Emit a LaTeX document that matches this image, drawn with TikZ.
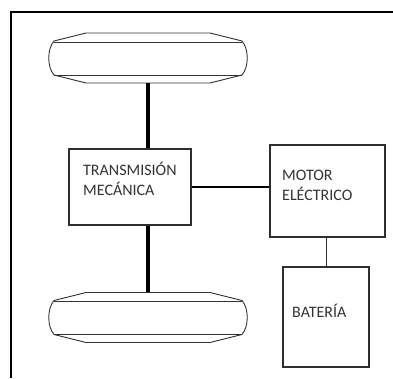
\documentclass[tikz,border=0pt]{standalone}
\usepackage{fontspec}
\setmainfont{Carlito}
\usetikzlibrary{calc}
\definecolor{txtgrey}{HTML}{333333}
\definecolor{boxgrey}{HTML}{2E2E2E}
\tikzset{
  boxnode/.style={draw=boxgrey, line width=1.1pt, minimum width=#1, inner sep=0pt},
  lbl/.style={text=txtgrey, font=\fontsize{16}{20}\selectfont, align=left, inner sep=0pt},
  wheelarea/.style={minimum width=200pt, minimum height=50pt, inner sep=0pt, draw=none},
  wheelline/.style={draw=black!80, line width=0.9pt},
  axle/.style={line width=3.2pt, black},
  link/.style={line width=1.3pt, black},
  thinlink/.style={line width=1pt, boxgrey},
  frameline/.style={line width=2pt, black}
}
\newcommand{\wheelshape}[1]{%
  \draw[wheelline, shift={(#1.center)}]
    (-94,-17) -- (-62,-25) -- (62,-25) -- (94,-17)
    .. controls (101,-9) and (101,9) .. (94,17)
    -- (62,25) -- (-62,25) -- (-94,17)
    .. controls (-101,9) and (-101,-9) .. (-94,-17);
  \draw[wheelline, shift={(#1.center)}] (-94,-16) -- (94,-16);
  \draw[wheelline, shift={(#1.center)}] (-94,17) -- (94,17);
}
\begin{document}
\begin{tikzpicture}[x=1pt, y=-1pt]
\useasboundingbox (0,0) rectangle (393,378);
\draw[frameline] (11,378) -- (11,12) -- (393,12);
% wheels
\node[wheelarea] (wt) at (148,58) {};
\node[wheelarea] (wb) at (148,317.5) {};
\wheelshape{wt}
\wheelshape{wb}
% boxes
\node[boxnode=122pt, minimum height=76pt] (trans) at (130,187) {};
\node[boxnode=115pt, minimum height=92pt] (motor) at (327.5,191) {};
\node[boxnode=86pt, minimum height=100pt] (bat) at (326,317) {};
% labels
\node[lbl, anchor=north west] (transtxt) at (83,161.5) {TRANSMISIÓN\\MECÁNICA};
\node[lbl, anchor=north west] (motortxt) at (282,169.5) {MOTOR\\ELÉCTRICO};
\node[lbl, anchor=base west] (battxt) at (292,317) {BATERÍA};
% connectors
\draw[axle] (wt.south) -- (wt.south |- trans.north);
\draw[axle] (wb.north |- trans.south) -- (wb.north);
\draw[link] (trans.east) -- (trans.east -| motor.west);
\draw[thinlink] (bat.north) -- (bat.north |- motor.south);
\end{tikzpicture}
\end{document}
